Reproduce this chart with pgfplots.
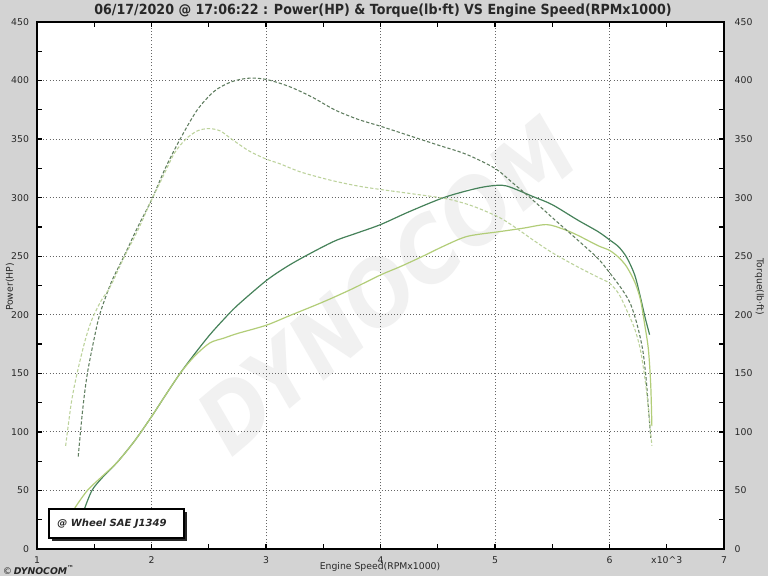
\documentclass[border=0pt]{standalone}
\usepackage{fontspec}
\setmainfont{DejaVu Sans}
\usepackage{graphicx}
\usepackage{pgfplots}
\pgfplotsset{compat=1.18}
\definecolor{bggray}{RGB}{211,211,211}
\definecolor{wm}{RGB}{241,241,241}
\definecolor{pdark}{RGB}{70,130,90}
\definecolor{plight}{RGB}{178,205,120}
\definecolor{tdark}{RGB}{95,125,95}
\definecolor{tlight}{RGB}{188,210,155}
\definecolor{txt}{RGB}{40,40,40}

\pgfplotstableread{
x y
1.41 33
1.48 50
1.58 62
1.70 74
1.85 92
2.00 113
2.12 131
2.25 150
2.38 167
2.51 183
2.63 196
2.75 208
3.00 229
3.18 241
3.36 251
3.60 263
3.80 270
4.00 277
4.25 288
4.55 300
4.80 307
4.96 310
5.10 310
5.33 301
5.50 294
5.72 281
5.90 271
6.00 264
6.08 258
6.15 249
6.22 234
6.27 215
6.31 198
6.35 183
}\powerA

\pgfplotstableread{
x y
1.33 35
1.44 50
1.58 63
1.70 74
1.85 92
2.00 113
2.12 131
2.25 150
2.38 165
2.51 176
2.63 180
2.75 184
3.00 191
3.20 199
3.50 211
3.75 222
4.00 234
4.17 241
4.37 250
4.56 259
4.76 267
5.04 271
5.25 274
5.45 277
5.60 273
5.72 268
5.90 259
6.00 255
6.08 249
6.15 241
6.22 228
6.27 213
6.31 190
6.34 170
6.36 140
6.37 105
}\powerB

\pgfplotstableread{
x y
1.36 79
1.40 120
1.44 150
1.50 180
1.55 201
1.65 228
1.76 250
1.88 275
2.00 298
2.12 325
2.25 350
2.40 375
2.55 391
2.70 399
2.85 402
3.00 401
3.20 395
3.40 386
3.60 375
3.80 367
4.00 361
4.25 353
4.50 345
4.75 337
5.00 325
5.15 313
5.33 298
5.50 283
5.72 264
5.90 248
6.00 236
6.10 223
6.18 210
6.24 192
6.29 170
6.32 145
6.34 120
6.36 95
}\torqueA

\pgfplotstableread{
x y
1.25 88
1.30 125
1.35 150
1.42 178
1.48 196
1.56 212
1.64 224
1.76 249
1.88 272
2.00 298
2.10 318
2.20 338
2.30 350
2.40 357
2.50 359
2.60 357
2.70 350
2.85 340
3.00 333
3.12 329
3.30 322
3.56 315
3.80 310
4.00 307
4.30 303
4.58 299
4.80 293
5.04 283
5.20 273
5.33 264
5.50 253
5.72 241
5.90 232
6.00 227
6.08 218
6.15 204
6.22 188
6.27 170
6.31 145
6.34 120
6.37 88
}\torqueB

\begin{document}
\begin{tikzpicture}[x=1bp,y=1bp]
\path[use as bounding box, fill=bggray] (0,0) rectangle (576,432);
\fill[white] (27.75,20.25) rectangle (543,415.5);
\node[rotate=40, text=wm, inner sep=0] at (290,218) {\resizebox{345bp}{50bp}{\bfseries\itshape DYNOCOM}};

\begin{axis}[
  at={(27.75bp,20.25bp)}, anchor=south west, scale only axis,
  width=515.25bp, height=395.25bp,
  xmin=1, xmax=7, ymin=0, ymax=450,
  xtick={1,2,...,7}, ytick={0,50,...,450},
  minor x tick num=1, minor y tick num=1,
  xtick pos=both, ytick pos=both,
  xticklabel pos=bottom, yticklabel pos=left,
  tick align=inside,
  major tick length=3.75bp, minor tick length=3.75bp,
  tick style={black, line width=1bp},
  axis line style={black, line width=1.3bp},
  grid=major,
  major grid style={draw=gray!80!black, line width=0.6bp, dash pattern=on 0.75bp off 1.6bp},
  tick label style={font=\fontsize{7}{8}\selectfont, text=txt},
  /pgf/number format/assume math mode=true,
  yticklabel style={xshift=-2.5bp},
  xticklabel style={yshift=-2.5bp},
  extra x ticks={6.5},
  extra x tick labels={x10\textasciicircum 3},
  extra x tick style={grid=none},
]
\addplot[pdark, line width=0.9bp, smooth, tension=0.5] table[x=x,y=y] {\powerA};
\addplot[plight, line width=0.9bp, smooth, tension=0.5] table[x=x,y=y] {\powerB};
\end{axis}

\begin{axis}[
  at={(27.75bp,20.25bp)}, anchor=south west, scale only axis,
  width=515.25bp, height=395.25bp,
  xmin=1, xmax=7, ymin=0, ymax=450,
  axis x line=none, axis y line*=right,
  axis line style={draw=none},
  ytick={0,50,...,450},
  major tick length=0pt,
  tick label style={font=\fontsize{7}{8}\selectfont, text=txt},
  /pgf/number format/assume math mode=true,
  yticklabel style={xshift=4.5bp},
]
\addplot[tdark, line width=0.8bp, smooth, tension=0.5, dash pattern=on 2.5bp off 1.5bp] table[x=x,y=y] {\torqueA};
\addplot[tlight, line width=0.8bp, smooth, tension=0.5, dash pattern=on 2.5bp off 1.5bp] table[x=x,y=y] {\torqueB};
\end{axis}

% legend box
\fill[black!85] (39,26) rectangle (140.5,48);
\draw[black, line width=0.8bp, fill=white] (36.75,28.5) rectangle (138,50.25);
\node[text=black!85, inner sep=0] at (84,39.4) {\resizebox{82bp}{\height}{\fontsize{7.4}{9}\selectfont\bfseries\itshape @ Wheel SAE J1349}};

% title and labels
\node[text=txt, inner sep=0] at (287.25,423.6) {\resizebox{433bp}{\height}{\fontsize{10.5}{12}\selectfont\bfseries 06/17/2020 @ 17:06:22 : Power(HP) \& Torque(lb·ft) VS Engine Speed(RPMx1000)}};
\node[text=txt, rotate=90, inner sep=0] at (7.5,216.75) {\fontsize{7}{8}\selectfont Power(HP)};
\node[text=txt, rotate=-90, inner sep=0] at (569.5,216.75) {\fontsize{7}{8}\selectfont Torque(lb·ft)};
\node[text=txt, inner sep=0] at (285,6.5) {\fontsize{7}{8}\selectfont Engine Speed(RPMx1000)};
\node[text=black!85, anchor=west, inner sep=0] at (2,4.3) {\fontsize{7}{8}\selectfont ©\,\bfseries\itshape DYNOCOM\textsuperscript{\fontsize{5}{5}\selectfont ™}};
\end{tikzpicture}
\end{document}
